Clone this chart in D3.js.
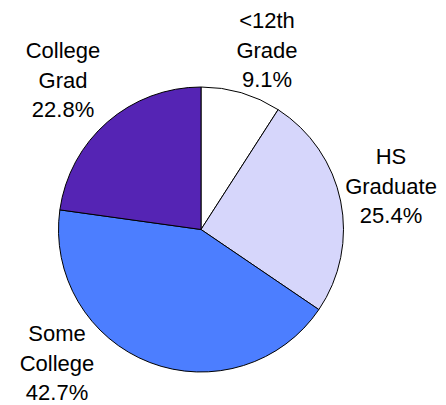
<!DOCTYPE html>
<html>
<head>
<meta charset="utf-8">
<script src="https://cdn.jsdelivr.net/npm/d3@7"></script>
<style>
  body { margin: 0; background: #fff; }
  text { font-family: "Liberation Sans", Arial, sans-serif; font-size: 22px; fill: #000; }
</style>
</head>
<body>
<div class="pie"></div>
<script>
// Chart data
var categories = ["<12th Grade", "HS Graduate", "Some College", "College Grad"];
var labelLines = [["<12th", "Grade"], ["HS", "Graduate"], ["Some", "College"], ["College", "Grad"]];
var shares = [9.1, 25.4, 42.7, 22.8];
var colors = ["#ffffff", "#d6d6fb", "#4c7eff", "#5524b4"];

// label anchors (offset of the middle line baseline from pie centre)
var labelOffsets = [[66, -172], [190, -36], [-144, 141], [-138, -142]];

var svgWidth = 446;
var svgHeight = 405;
var cx = 201, cy = 229.5, radius = 142.5;

var svg = d3.select(".pie").append("svg").attr("width", svgWidth).attr("height", svgHeight);

var chartGroup = svg.append("g")
  .attr("transform", `translate(${cx}, ${cy})`);

var data = categories.map(function(c, i) {
  return { name: c, lines: labelLines[i], value: shares[i], color: colors[i], off: labelOffsets[i] };
});

var pie = d3.pie().sort(null).value(d => d.value);
var arc = d3.arc().innerRadius(0).outerRadius(radius);

chartGroup.selectAll("path")
  .data(pie(data))
  .enter()
  .append("path")
  .attr("d", arc)
  .attr("fill", d => d.data.color)
  .attr("stroke", "#000")
  .attr("stroke-width", 1)
  .attr("stroke-linejoin", "round");

// labels
var lineGap = 29.5;
var labels = chartGroup.selectAll(".label")
  .data(data)
  .enter()
  .append("text")
  .attr("class", "label")
  .attr("text-anchor", "middle")
  .attr("transform", d => `translate(${d.off[0]}, ${d.off[1]})`);

labels.each(function(d) {
  var t = d3.select(this);
  var rows = d.lines.concat([d3.format(".1f")(d.value) + "%"]);
  rows.forEach(function(r, i) {
    t.append("tspan").attr("x", 0).attr("y", (i - 1) * lineGap).text(r);
  });
});
</script>
</body>
</html>
